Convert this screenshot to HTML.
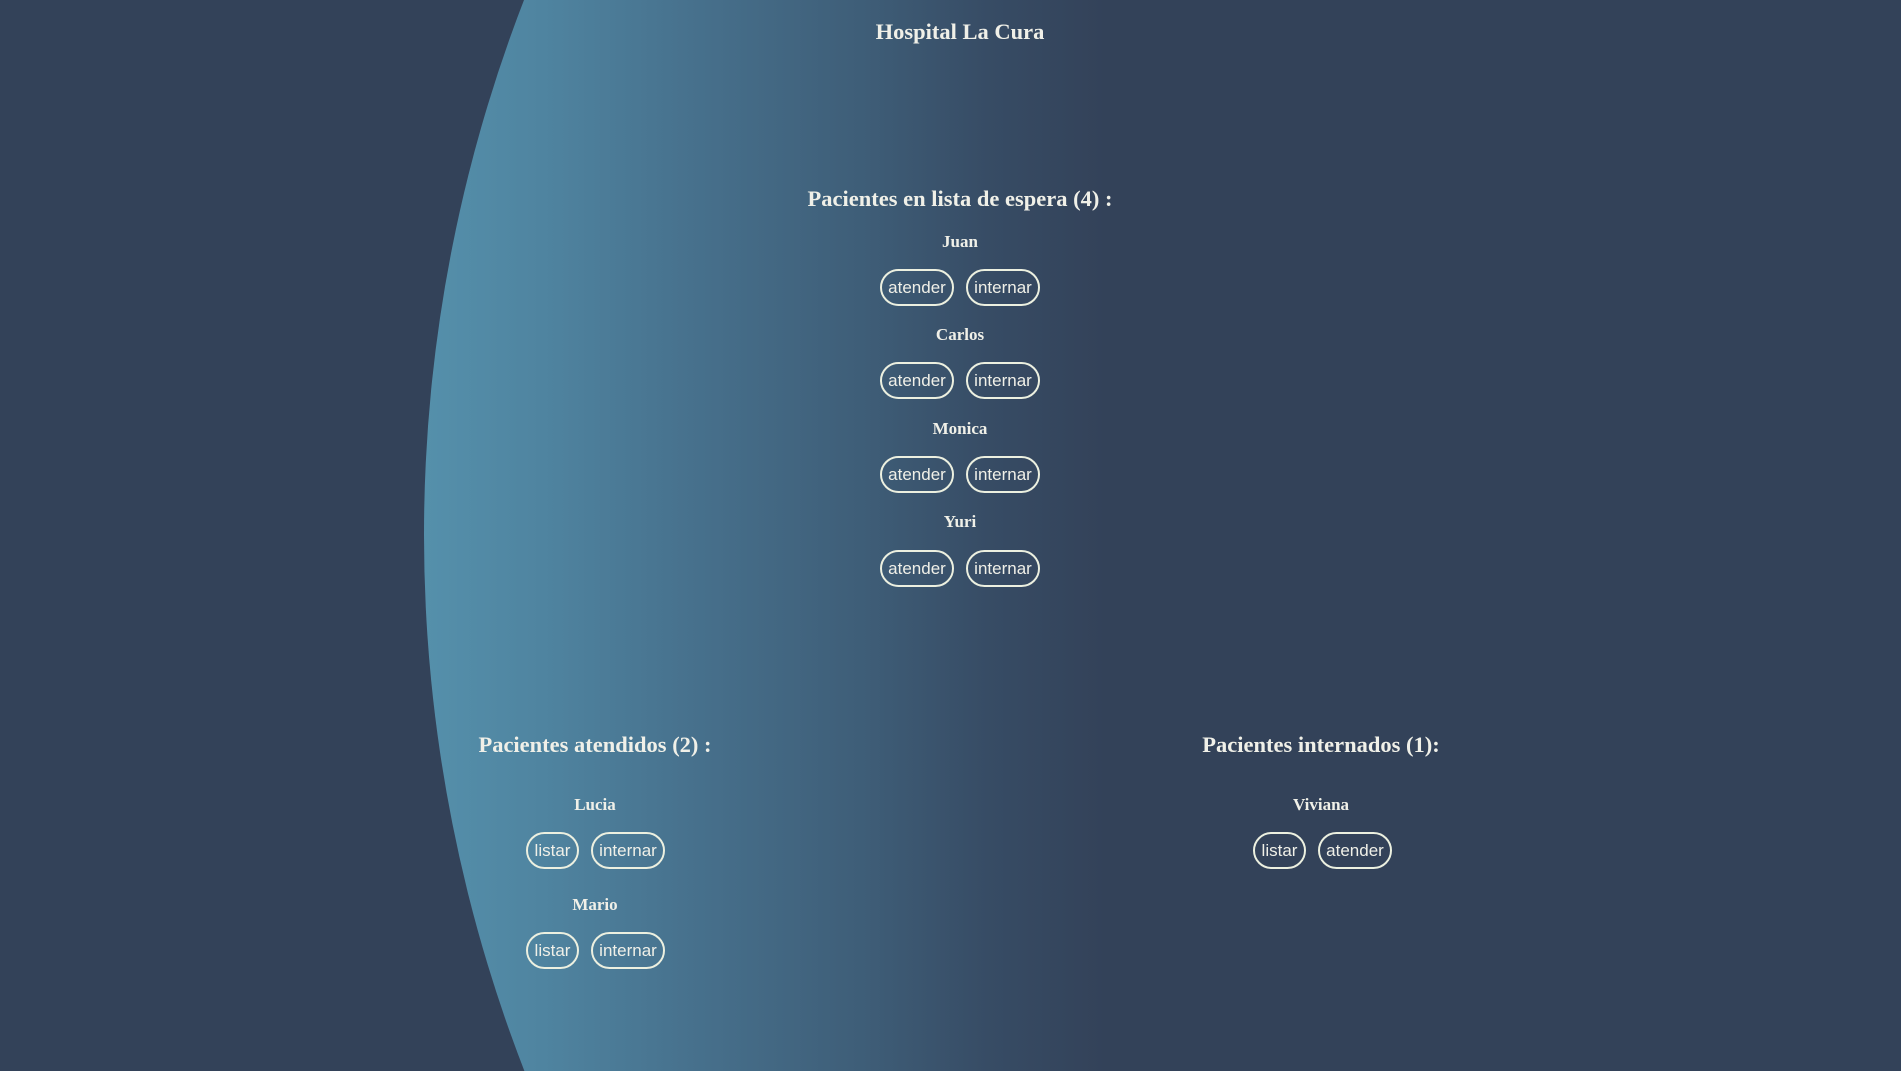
<!DOCTYPE html>
<html><head><meta charset="utf-8"><style>
html,body{margin:0;padding:0;width:1901px;height:1071px;overflow:hidden;background:#334259;}
#wrap{position:relative;width:1901px;height:1071px;overflow:hidden;background:#334259;}
#blob{position:absolute;left:424px;top:-946px;width:2962px;height:2962px;border-radius:50%;
background:linear-gradient(to right,#5590ab 0%,#4f84a0 4%,#47718d 9%,#3e5d77 15%,#374c65 19%,#334259 23%,#334259 100%);}
.t{position:absolute;transform:translateX(-50%);white-space:nowrap;color:#f0f0e8;font-family:"Liberation Serif",serif;font-weight:bold;}
.h1{font-size:22.5px;}
.h2{font-size:22.5px;}
.nm{font-size:17px;}
.b{position:absolute;box-sizing:border-box;height:37px;border:2px solid #ecf0e0;border-radius:19px;background:transparent;color:#f0f0e8;font-family:"Liberation Sans",sans-serif;font-size:17px;line-height:33px;text-align:center;padding:0;}
</style></head><body>
<div id="wrap">
<div id="blob"></div>
<div class="t h1" style="left:960px;top:19px">Hospital La Cura</div>
<div class="t h2" style="left:960px;top:186px">Pacientes en lista de espera (4) :</div>

<div class="t nm" style="left:960px;top:232px">Juan</div>
<button class="b" style="left:880px;top:269px;width:74px">atender</button>
<button class="b" style="left:966px;top:269px;width:74px">internar</button>

<div class="t nm" style="left:960px;top:325px">Carlos</div>
<button class="b" style="left:880px;top:362px;width:74px">atender</button>
<button class="b" style="left:966px;top:362px;width:74px">internar</button>

<div class="t nm" style="left:960px;top:419px">Monica</div>
<button class="b" style="left:880px;top:456px;width:74px">atender</button>
<button class="b" style="left:966px;top:456px;width:74px">internar</button>

<div class="t nm" style="left:960px;top:512px">Yuri</div>
<button class="b" style="left:880px;top:550px;width:74px">atender</button>
<button class="b" style="left:966px;top:550px;width:74px">internar</button>

<div class="t h2" style="left:595px;top:732px">Pacientes atendidos (2) :</div>
<div class="t nm" style="left:595px;top:795px">Lucia</div>
<button class="b" style="left:526px;top:832px;width:53px">listar</button>
<button class="b" style="left:591px;top:832px;width:74px">internar</button>
<div class="t nm" style="left:595px;top:895px">Mario</div>
<button class="b" style="left:526px;top:932px;width:53px">listar</button>
<button class="b" style="left:591px;top:932px;width:74px">internar</button>

<div class="t h2" style="left:1321px;top:732px">Pacientes internados (1):</div>
<div class="t nm" style="left:1321px;top:795px">Viviana</div>
<button class="b" style="left:1253px;top:832px;width:53px">listar</button>
<button class="b" style="left:1318px;top:832px;width:74px">atender</button>
</div>
</body></html>
